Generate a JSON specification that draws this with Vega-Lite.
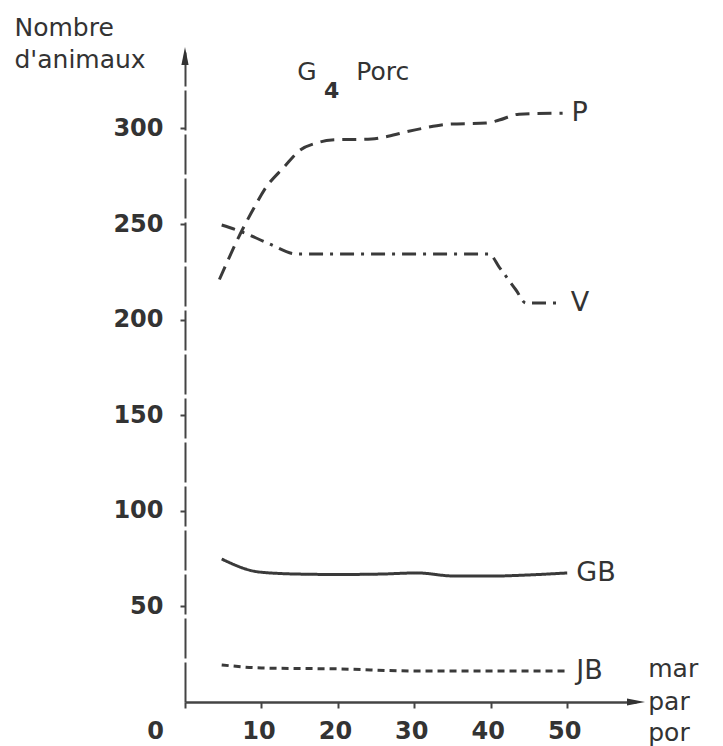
{
  "$schema": "https://vega.github.io/schema/vega-lite/v6.json",
  "width": 451,
  "height": 650,
  "autosize": {"type": "none"},
  "padding": {"left": 185, "top": 52, "right": 87, "bottom": 44},
  "background": "white",
  "config": {"view": {"stroke": null}, "font": "DejaVu Sans"},
  "datasets": {
    "series": [
      {"serie": "P", "x": 4.5, "y": 221},
      {"serie": "P", "x": 7.5, "y": 247},
      {"serie": "P", "x": 9.1, "y": 259},
      {"serie": "P", "x": 10.4, "y": 268},
      {"serie": "P", "x": 13, "y": 280},
      {"serie": "P", "x": 15, "y": 288.5},
      {"serie": "P", "x": 17.3, "y": 292.5},
      {"serie": "P", "x": 19.2, "y": 294},
      {"serie": "P", "x": 24.4, "y": 294.5},
      {"serie": "P", "x": 26.1, "y": 295.5},
      {"serie": "P", "x": 28.7, "y": 298},
      {"serie": "P", "x": 31, "y": 300},
      {"serie": "P", "x": 34.6, "y": 302.3},
      {"serie": "P", "x": 39.4, "y": 302.8},
      {"serie": "P", "x": 41.1, "y": 304.4},
      {"serie": "P", "x": 43.7, "y": 307.5},
      {"serie": "P", "x": 49.4, "y": 308},
      {"serie": "V", "x": 4.8, "y": 249.5},
      {"serie": "V", "x": 7.5, "y": 245.8},
      {"serie": "V", "x": 10.8, "y": 240.1},
      {"serie": "V", "x": 14.7, "y": 234.3},
      {"serie": "V", "x": 30.4, "y": 234.3},
      {"serie": "V", "x": 39.8, "y": 234.3},
      {"serie": "V", "x": 41.1, "y": 227.5},
      {"serie": "V", "x": 43.3, "y": 215.5},
      {"serie": "V", "x": 44.6, "y": 208.7},
      {"serie": "V", "x": 49.3, "y": 208.7},
      {"serie": "GB", "x": 4.8, "y": 74.8},
      {"serie": "GB", "x": 9.7, "y": 68},
      {"serie": "GB", "x": 15, "y": 66.9},
      {"serie": "GB", "x": 20, "y": 66.7},
      {"serie": "GB", "x": 25.4, "y": 66.9},
      {"serie": "GB", "x": 30.4, "y": 67.5},
      {"serie": "GB", "x": 35.2, "y": 65.9},
      {"serie": "GB", "x": 40.5, "y": 65.9},
      {"serie": "GB", "x": 44.6, "y": 66.4},
      {"serie": "GB", "x": 50, "y": 67.5},
      {"serie": "JB", "x": 4.8, "y": 19.4},
      {"serie": "JB", "x": 10, "y": 17.8},
      {"serie": "JB", "x": 20.2, "y": 17.3},
      {"serie": "JB", "x": 30.4, "y": 16.2},
      {"serie": "JB", "x": 40.5, "y": 16.2},
      {"serie": "JB", "x": 50, "y": 16.2}
    ],
    "notes": [
      {"t": "mar", "x": 60.6, "y": 13.1},
      {"t": "par", "x": 60.6, "y": -4.2},
      {"t": "por", "x": 60.6, "y": -20.4},
      {"t": "G", "x": 14.7, "y": 325.3},
      {"t": "Porc", "x": 22.4, "y": 325.3}
    ],
    "sub": [
      {"t": "4", "x": 18.2, "y": 315.9}
    ],
    "arrows": [
      {"dir": "h", "x": 59.0, "y": 0},
      {"dir": "v", "x": 0, "y": 337.9}
    ]
  },
  "encoding": {
    "x": {
      "field": "x",
      "type": "quantitative",
      "scale": {"domain": [0, 59], "nice": false, "zero": false},
      "axis": {
        "values": [0, 10, 20, 30, 40, 50],
        "title": null,
        "grid": false,
        "domainColor": "#444",
        "domainWidth": 2.5,
        "tickColor": "#444",
        "tickWidth": 2,
        "tickSize": 6,
        "labelFont": "DejaVu Sans",
        "labelFontWeight": "bold",
        "labelFontSize": 24,
        "labelColor": "#333",
        "labelPadding": 11,
        "labelFlush": false,
        "labelOverlap": false,
        "labelOffset": {"condition": {"test": "datum.value === 0", "value": -30}, "value": -3}
      }
    },
    "y": {
      "field": "y",
      "type": "quantitative",
      "scale": {"domain": [0, 340], "nice": false, "zero": false},
      "axis": {
        "values": [50, 100, 150, 200, 250, 300],
        "title": ["Nombre", "d'animaux"],
        "titleAngle": 0,
        "titleAlign": "left",
        "titleBaseline": "alphabetic",
        "titleX": -171,
        "titleY": -17,
        "titleFont": "DejaVu Sans",
        "titleFontSize": 25,
        "titleFontWeight": "normal",
        "titleColor": "#333",
        "titleLineHeight": 32,
        "grid": false,
        "domainColor": "#444",
        "domainWidth": 2,
        "domainDash": [40, 4],
        "tickColor": "#444",
        "tickWidth": 2,
        "tickSize": 5,
        "labelFont": "DejaVu Sans",
        "labelFontWeight": "bold",
        "labelFontSize": 24,
        "labelColor": "#333",
        "labelPadding": 17,
        "labelBaseline": "middle",
        "labelFlush": false,
        "labelOverlap": false
      }
    }
  },
  "layer": [
    {
      "data": {"name": "series"},
      "mark": {"type": "line", "interpolate": "monotone", "color": "#3a3a3a", "strokeCap": "butt"},
      "encoding": {
        "detail": {"field": "serie"},
        "strokeDash": {
          "field": "serie",
          "type": "nominal",
          "scale": {"domain": ["P", "V", "GB", "JB"], "range": [[14, 8], [14, 7, 3, 7], [1, 0], [7, 5]]},
          "legend": null
        },
        "strokeWidth": {
          "field": "serie",
          "type": "nominal",
          "scale": {"domain": ["P", "V", "GB", "JB"], "range": [3, 3, 3.5, 2]},
          "legend": null
        }
      }
    },
    {
      "data": {"name": "series"},
      "transform": [
        {"joinaggregate": [{"op": "max", "field": "x", "as": "mx"}], "groupby": ["serie"]},
        {"filter": "datum.x === datum.mx"}
      ],
      "mark": {"type": "text", "align": "left", "baseline": "middle", "dx": 9, "fontSize": 27, "font": "DejaVu Sans", "color": "#333"},
      "encoding": {"text": {"field": "serie"}}
    },
    {
      "data": {"name": "notes"},
      "mark": {"type": "text", "align": "left", "baseline": "alphabetic", "fontSize": 25, "font": "DejaVu Sans", "color": "#333"},
      "encoding": {"text": {"field": "t"}}
    },
    {
      "data": {"name": "sub"},
      "mark": {"type": "text", "align": "left", "baseline": "alphabetic", "fontSize": 22, "fontWeight": "bold", "font": "DejaVu Sans", "color": "#333"},
      "encoding": {"text": {"field": "t"}}
    },
    {
      "data": {"name": "arrows"},
      "mark": {"type": "point", "filled": true, "opacity": 1, "color": "#333", "size": 324},
      "encoding": {
        "shape": {
          "field": "dir",
          "type": "nominal",
          "scale": {"domain": ["h", "v"], "range": ["M1,0L-1,-0.4L-1,0.4Z", "M0,-1L0.4,1L-0.4,1Z"]},
          "legend": null
        }
      }
    }
  ]
}
